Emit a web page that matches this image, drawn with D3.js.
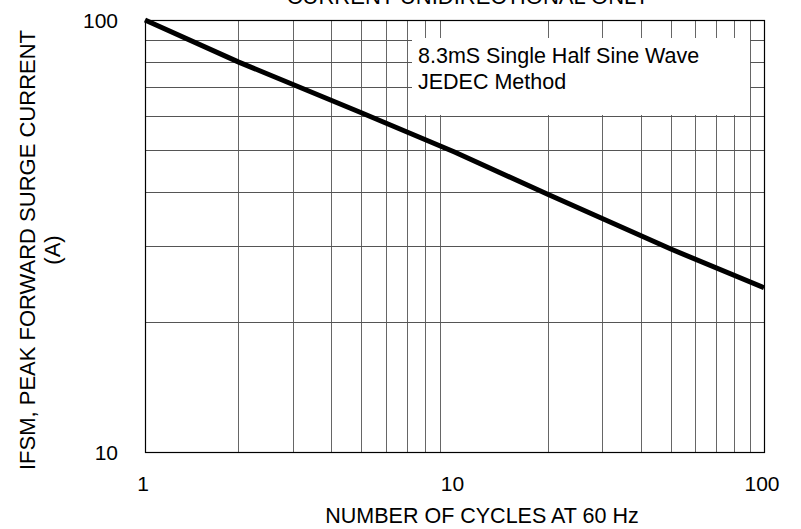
<!DOCTYPE html>
<html>
<head>
<meta charset="utf-8">
<script src="https://cdn.jsdelivr.net/npm/d3@7"></script>
<style>
  body { margin: 0; background: #fff; }
  text { font-family: "Liberation Sans", Arial, sans-serif; fill: #000; }
</style>
</head>
<body>
<svg id="chart" width="801" height="529"></svg>
<script>
// surge curve (cycles -> amps)
var cycles = [1, 2, 5, 10, 20, 50, 100];
var amps = [100, 80, 61, 49.5, 39.5, 29.5, 24];
var xTicks = [1, 10, 100];
var yTicks = [10, 100];
var legendLines = ["8.3mS Single Half Sine Wave", "JEDEC Method"];

var svg = d3.select("#chart");
// plot edges (note: "top" is reserved on window, so use other names)
var pLeft = 145, pRight = 764, pTop = 20, pBottom = 452;

var x = d3.scaleLog().domain([1, 100]).range([pLeft, pRight]);
var y = d3.scaleLog().domain([10, 100]).range([pBottom, pTop]);

// minor + major grid
var xGrid = [];
for (var d = 1; d < 100; d *= 10)
    for (var k = 2; k <= 9; k++) xGrid.push(d * k);
var yGrid = [];
for (var k = 2; k <= 9; k++) yGrid.push(10 * k);

var grid = svg.append("g");
grid.selectAll(".vx").data(xGrid).enter().append("line")
    .attr("x1", function(v){ return Math.round(x(v)) + 0.5; })
    .attr("x2", function(v){ return Math.round(x(v)) + 0.5; })
    .attr("y1", pTop).attr("y2", pBottom)
    .attr("stroke", "#666").attr("stroke-width", 1);
grid.selectAll(".hy").data(yGrid).enter().append("line")
    .attr("y1", function(v){ return Math.round(y(v)) + 0.5; })
    .attr("y2", function(v){ return Math.round(y(v)) + 0.5; })
    .attr("x1", pLeft).attr("x2", pRight)
    .attr("stroke", "#555").attr("stroke-width", 1);

// legend box covers the grid (no border)
svg.append("rect")
    .attr("x", 412).attr("y", 38).attr("width", 338).attr("height", 77)
    .attr("fill", "#fff");
svg.selectAll(".leg").data(legendLines).enter().append("text")
    .attr("x", 418).attr("y", function(d, i){ return 62.5 + i * 26.5; })
    .attr("font-size", 21.5)
    .text(function(d){ return d; });

// frame
svg.append("rect")
    .attr("x", pLeft + 0.5).attr("y", pTop + 0.5)
    .attr("width", pRight - pLeft).attr("height", pBottom - pTop)
    .attr("fill", "none").attr("stroke", "#000").attr("stroke-width", 1.2);

// curve
var line = d3.line()
    .x(function(d){ return x(d[0]); })
    .y(function(d){ return y(d[1]); });
svg.append("path")
    .datum(d3.zip(cycles, amps))
    .attr("d", line)
    .attr("fill", "none").attr("stroke", "#000").attr("stroke-width", 5);

// axes labels
svg.selectAll(".xt").data(xTicks).enter().append("text")
    .attr("x", function(v){ return x(v) - 2; }).attr("y", 491)
    .attr("text-anchor", "middle").attr("font-size", 21)
    .text(function(v){ return v; });
svg.selectAll(".yt").data(yTicks).enter().append("text")
    .attr("x", 118).attr("y", function(v){ return y(v) + 7.5; })
    .attr("text-anchor", "end").attr("font-size", 21)
    .text(function(v){ return v; });

svg.append("text")
    .attr("x", 482).attr("y", 523)
    .attr("text-anchor", "middle").attr("font-size", 21.5)
    .text("NUMBER OF CYCLES AT 60 Hz");

svg.append("text")
    .attr("x", 468).attr("y", 4)
    .attr("text-anchor", "middle").attr("font-size", 22)
    .text("CURRENT UNIDIRECTIONAL ONLY");

var yt = svg.append("g").attr("transform", "translate(0,250) rotate(-90)");
yt.append("text").attr("x", 0).attr("y", 35)
    .attr("text-anchor", "middle").attr("font-size", 22)
    .text("IFSM, PEAK FORWARD SURGE CURRENT");
yt.append("text").attr("x", 0).attr("y", 60)
    .attr("text-anchor", "middle").attr("font-size", 22)
    .text("(A)");
</script>
</body>
</html>
